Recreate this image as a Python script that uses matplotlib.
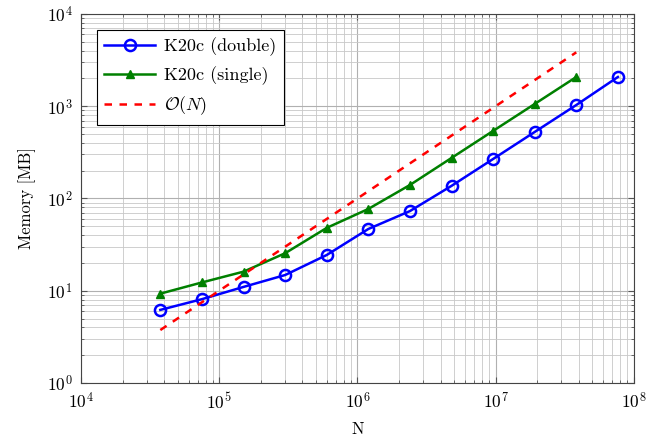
import matplotlib
matplotlib.use('Agg')
import matplotlib.pyplot as plt
import numpy as np

plt.rcParams['font.family'] = ['cmr10']
plt.rcParams['mathtext.fontset'] = 'cm'
plt.rcParams['axes.formatter.use_mathtext'] = True
plt.rcParams['font.size'] = 12

# problem sizes (doubling)
n_double = [3.75e4, 7.5e4, 1.5e5, 3e5, 6e5, 1.2e6, 2.4e6, 4.8e6, 9.6e6, 1.92e7, 3.84e7, 7.68e7]
mem_double = [6.2, 8.1, 11, 14.8, 24.4, 46.7, 73, 137, 268, 526, 1031, 2075]

n_single = [3.75e4, 7.5e4, 1.5e5, 3e5, 6e5, 1.2e6, 2.4e6, 4.8e6, 9.6e6, 1.92e7, 3.84e7]
mem_single = [9.3, 12.3, 16.1, 25.5, 48, 77, 140, 275, 540, 1058, 2075]

# reference slope O(N)
n_ref = [3.75e4, 7.5e4, 1.5e5, 3e5, 6e5, 1.2e6, 2.4e6, 4.8e6, 9.6e6, 1.92e7, 3.84e7]
mem_ref = [3.75, 7.5, 15, 30, 60, 120, 240, 480, 960, 1920, 3840]

fig = plt.figure(figsize=(6.46, 4.37), dpi=100)
ax = fig.add_axes([0.1254, 0.1236, 0.8556, 0.8444])

ax.plot(n_double, mem_double, color='blue', lw=1.8, marker='o', ms=8,
        mfc='none', mew=1.8, label='K20c (double)')
ax.plot(n_single, mem_single, color='green', lw=1.8, marker='^', ms=6,
        label='K20c (single)')
ax.plot(n_ref, mem_ref, color='red', lw=1.8, ls=(0, (3, 3)),
        label=r'$\mathcal{O}(N)$')

ax.set_xscale('log')
ax.set_yscale('log')
ax.set_xlim(1e4, 1e8)
ax.set_ylim(1e0, 1e4)

ax.grid(True, which='major', color='#b0b0b0', lw=0.8)
ax.grid(True, which='minor', color='#c8c8c8', lw=0.6)
ax.set_axisbelow(True)
ax.tick_params(which='both', direction='in', top=True, right=True, color='#555555')
ax.tick_params(which='major', length=4, pad=6, labelsize=12.5)
ax.tick_params(which='minor', length=2)
for s in ax.spines.values():
    s.set_color('#444444')

ax.set_xlabel('N', labelpad=7)
ax.set_ylabel('Memory [MB]', labelpad=8)

leg = ax.legend(loc='upper left', fancybox=False, edgecolor='black',
                framealpha=1, borderaxespad=0.9, handlelength=2.8,
                handletextpad=0.5, labelspacing=0.55, fontsize=13)
leg.get_frame().set_linewidth(0.8)

fig.savefig('out.png', dpi=100)
